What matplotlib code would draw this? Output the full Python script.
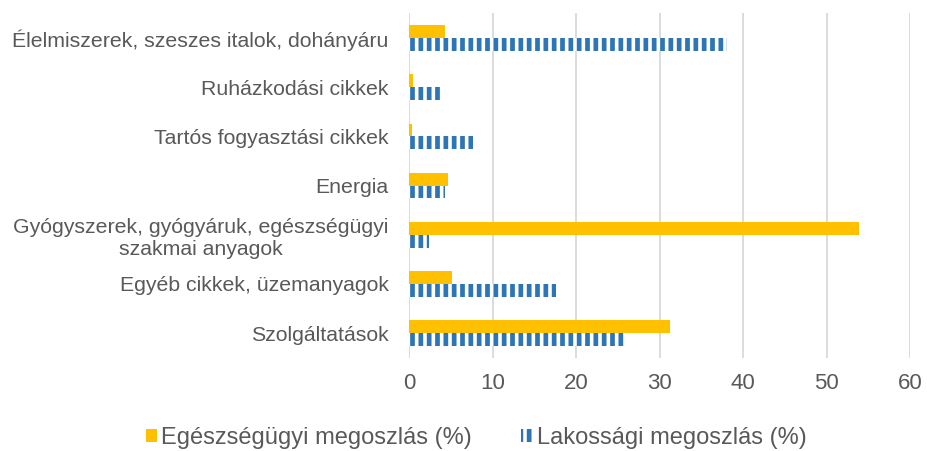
import matplotlib
matplotlib.use("Agg")
import matplotlib.pyplot as plt
import numpy as np

categories = [
    "Élelmiszerek, szeszes italok, dohányáru",
    "Ruházkodási cikkek",
    "Tartós fogyasztási cikkek",
    "Energia",
    "Gyógyszerek, gyógyáruk, egészségügyi\nszakmai anyagok",
    "Egyéb cikkek, üzemanyagok",
    "Szolgáltatások",
]
egeszsegugyi = [4.3, 0.5, 0.3, 4.7, 53.9, 5.2, 31.3]
lakossagi = [38.1, 3.7, 7.7, 4.3, 2.4, 17.6, 26.0]
series_names = ["Egészségügyi megoszlás (%)", "Lakossági megoszlás (%)"]
xticks = [0, 10, 20, 30, 40, 50, 60]

plt.rcParams['font.family'] = ['Liberation Sans', 'DejaVu Sans']
plt.rcParams['hatch.linewidth'] = 3.4

text_color = '#595959'
yellow = '#FFC000'
blue = '#2E75B6'

fig = plt.figure(figsize=(9.27, 4.51), dpi=100)
x0, x1 = 409, 910
ax = fig.add_axes([x0/927, 1-357.7/451, (x1-x0)/927, (357.7-13.4)/451])

y = np.arange(len(categories))
h = 0.26
ax.barh(y - h/2, egeszsegugyi, height=h, color=yellow, label=series_names[0], zorder=3)
ax.barh(y + h/2, lakossagi, height=h, facecolor='white', edgecolor=blue,
        hatch='||', linewidth=0, label=series_names[1], zorder=3)

ax.set_ylim(len(categories) - 0.5, -0.5)
ax.set_xlim(0, 60)
ax.set_xticks(xticks)
ax.set_yticks(y)
ax.set_yticklabels(categories, multialignment='center')
ax.tick_params(axis='y', length=0, pad=14.5, labelsize=15.3, labelcolor=text_color)
ax.tick_params(axis='x', length=0, pad=11, labelsize=16, labelcolor=text_color)
for s in ax.spines.values():
    s.set_visible(False)
ax.xaxis.grid(True, color='#D9D9D9', linewidth=1.3, zorder=0)
ax.set_axisbelow(True)

leg = fig.legend(loc='center', bbox_to_anchor=(476/927, 1-438/451), ncol=2, frameon=False,
                 fontsize=17, handlelength=0.5, handleheight=0.5, handletextpad=0.15,
                 columnspacing=2.1, labelcolor=text_color)

fig.savefig('out.png', dpi=100)
